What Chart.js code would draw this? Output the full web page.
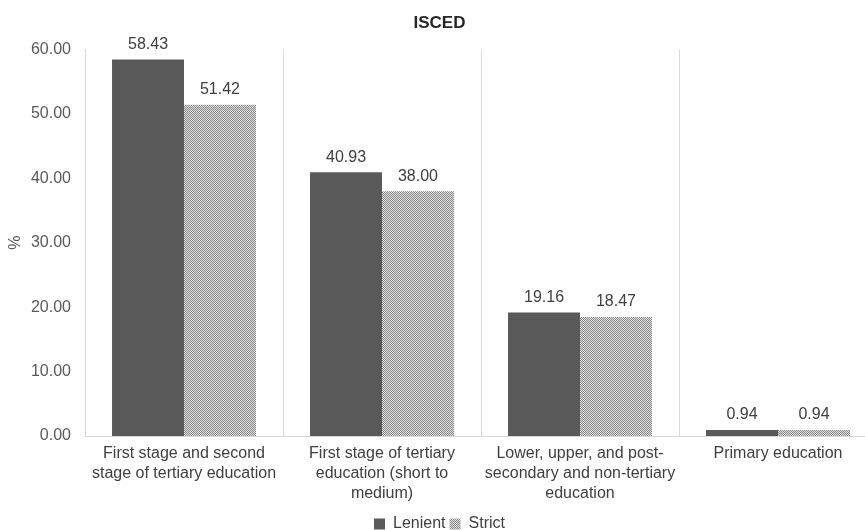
<!DOCTYPE html>
<html>
<head>
<meta charset="utf-8">
<script src="https://cdn.jsdelivr.net/npm/chart.js@4"></script>
<style>
  body { margin: 0; background: #fff; overflow: hidden; }
</style>
</head>
<body>
<canvas id="isced" width="877" height="542"></canvas>
<script>
var categories = [
  ["First stage and second", "stage of tertiary education"],
  ["First stage of tertiary", "education (short to", "medium)"],
  ["Lower, upper, and post-", "secondary and non-tertiary", "education"],
  "Primary education"
];
var lenient = [58.43, 40.93, 19.16, 0.94];
var strict = [51.42, 38.00, 18.47, 0.94];

// checkered fill used for the "Strict" bars
function makePattern() {
  var c = document.createElement("canvas");
  c.width = 4;
  c.height = 4;
  var g = c.getContext("2d");
  g.fillStyle = "#dcdcdc";
  g.fillRect(0, 0, 4, 4);
  g.fillStyle = "#8c8c8c";
  for (var y = 0; y < 4; y++) {
    for (var x = 0; x < 4; x++) {
      if ((x + y) % 2 === 0) g.fillRect(x, y, 1, 1);
    }
  }
  return g.createPattern(c, "repeat");
}

var valueLabels = {
  id: "valueLabels",
  afterDatasetsDraw: function (chart) {
    var ctx = chart.ctx;
    ctx.save();
    ctx.font = "16px 'Liberation Sans', Arial, sans-serif";
    ctx.fillStyle = "#404040";
    ctx.textAlign = "center";
    ctx.textBaseline = "bottom";
    chart.data.datasets.forEach(function (ds, i) {
      chart.getDatasetMeta(i).data.forEach(function (bar, j) {
        ctx.fillText(ds.data[j].toFixed(2), bar.x, bar.y - 7);
      });
    });
    ctx.restore();
  }
};

Chart.defaults.font.family = "'Liberation Sans', Arial, sans-serif";
Chart.defaults.font.size = 16;
Chart.defaults.color = "#404040";

new Chart(document.getElementById("isced"), {
  type: "bar",
  data: {
    labels: categories,
    datasets: [
      {
        label: "Lenient",
        data: lenient,
        backgroundColor: "#595959"
      },
      {
        label: "Strict",
        data: strict,
        backgroundColor: makePattern()
      }
    ]
  },
  options: {
    responsive: false,
    animation: false,
    categoryPercentage: 0.727,
    barPercentage: 1,
    layout: {
      padding: { left: 2, right: 0, top: 3, bottom: 0 }
    },
    scales: {
      x: {
        grid: { color: "#d9d9d9", offset: true, drawTicks: false },
        border: { color: "#d9d9d9" },
        ticks: {
          color: "#404040",
          padding: 8,
          maxRotation: 0,
          autoSkip: false,
          font: { size: 16, lineHeight: 1.25 }
        }
      },
      y: {
        min: 0,
        max: 60,
        grid: { display: false, drawTicks: false },
        border: { color: "#d9d9d9" },
        ticks: {
          stepSize: 10,
          color: "#595959",
          padding: 14,
          callback: function (v) { return v.toFixed(2); }
        },
        title: { display: true, text: "%", color: "#595959", padding: 4 },
        afterFit: function (scale) { scale.width = 83; }
      }
    },
    plugins: {
      title: {
        display: true,
        text: "ISCED",
        color: "#262626",
        font: { size: 17, weight: "bold" },
        padding: { top: 10, bottom: 16 }
      },
      legend: {
        position: "bottom",
        labels: { boxWidth: 11, boxHeight: 11, padding: 4, color: "#404040" }
      },
      tooltip: { enabled: false }
    }
  },
  plugins: [valueLabels]
});
</script>
</body>
</html>
